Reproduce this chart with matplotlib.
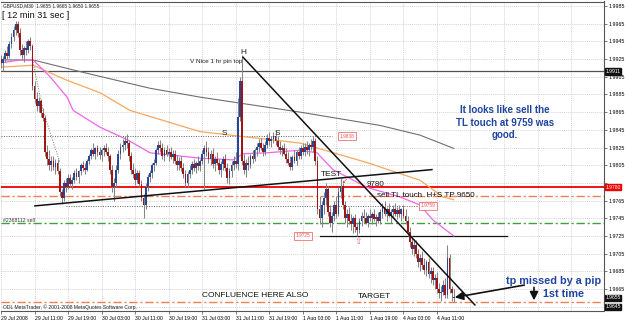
import matplotlib
matplotlib.use("Agg")
import matplotlib.pyplot as plt

plt.rcParams['font.family'] = ['Liberation Sans', 'DejaVu Sans']

# ---------------- data (prices in 1/10000) ----------------
opens = [19925,19920,19925,19932,19928,19942,19950,19958,19965,19955,19935,19930,19938,19935,19945,
         19940,19895,19880,19872,19878,19864,19858,19820,19812,19805,19810,19803,19808,19798,19775,
         19768,19785,19780,19790,19784,19788,19796,19792,19798,19805,19802,19800,19810,19815,19822,
         19818,19824,19820,19816,19822,19825,19820,19815,19800,19780,19785,19800,19818,19826,19828,
         19832,19830,19815,19800,19795,19788,19796,19784,19768,19760,19780,19792,19796,19805,19808,
         19822,19828,19825,19815,19822,19818,19820,19814,19818,19810,19805,19810,19802,19795,19785,
         19795,19800,19806,19802,19808,19804,19810,19818,19825,19820,19812,19818,19806,19812,19808,
         19800,19806,19812,19802,19790,19798,19805,19810,19806,19860,19900,19810,19800,19808,19805,
         19815,19812,19822,19826,19830,19825,19820,19828,19836,19832,19835,19838,19832,19826,19822,
         19825,19818,19812,19808,19803,19814,19810,19820,19815,19825,19820,19826,19822,19828,19826,
         19832,19810,19755,19745,19760,19768,19778,19752,19740,19748,19760,19750,19775,19782,19760,
         19745,19750,19742,19738,19745,19735,19732,19742,19748,19745,19740,19748,19745,19750,19744,
         19746,19742,19752,19758,19750,19755,19748,19752,19756,19750,19754,19750,19755,19748,19742,
         19730,19718,19710,19715,19705,19695,19700,19692,19686,19695,19682,19685,19675,19678,19665,
         19660,19662,19670,19658,19700,19665,19655]
highs = [19930,19928,19935,19940,19945,19955,19962,19968,19968,19960,19942,19940,19945,19948,19950,
         19942,19900,19888,19882,19880,19870,19862,19828,19822,19815,19815,19812,19812,19802,19778,
         19788,19790,19795,19795,19792,19800,19802,19800,19808,19810,19808,19812,19818,19825,19830,
         19826,19828,19826,19825,19828,19830,19826,19818,19805,19790,19805,19822,19830,19835,19838,
         19840,19834,19820,19808,19802,19800,19800,19788,19772,19785,19795,19800,19808,19812,19825,
         19832,19834,19830,19826,19828,19825,19826,19822,19822,19816,19814,19815,19808,19800,19798,
         19805,19810,19812,19810,19815,19812,19822,19828,19832,19826,19822,19825,19815,19820,19812,
         19810,19815,19818,19808,19802,19810,19815,19820,19881,19905,19930,19818,19812,19815,19818,
         19822,19825,19830,19835,19836,19830,19832,19840,19842,19838,19843,19845,19838,19832,19828,
         19830,19824,19820,19815,19816,19822,19822,19826,19828,19830,19830,19832,19830,19835,19838,
         19836,19815,19770,19765,19775,19785,19782,19760,19752,19765,19770,19780,19790,19785,19765,
         19755,19758,19750,19748,19750,19740,19745,19752,19755,19752,19750,19756,19752,19756,19750,
         19752,19756,19762,19764,19758,19762,19756,19760,19762,19758,19760,19757,19760,19755,19748,
         19735,19725,19722,19720,19710,19705,19708,19700,19698,19700,19690,19690,19682,19684,19672,
         19668,19675,19678,19715,19705,19668,19665]
lows = [19915,19912,19922,19925,19926,19938,19945,19952,19950,19930,19925,19922,19930,19932,19935,
        19890,19875,19866,19865,19860,19855,19815,19805,19800,19798,19800,19795,19795,19770,19761,
        19765,19775,19778,19780,19778,19785,19788,19785,19794,19798,19795,19798,19806,19812,19815,
        19812,19815,19812,19810,19815,19818,19810,19795,19775,19764,19780,19796,19812,19820,19822,
        19825,19810,19795,19790,19783,19785,19780,19765,19745,19755,19776,19786,19790,19798,19805,
        19818,19820,19812,19810,19815,19810,19812,19808,19806,19800,19800,19798,19790,19780,19780,
        19790,19795,19798,19796,19800,19798,19806,19778,19815,19808,19805,19802,19798,19805,19795,
        19792,19800,19798,19785,19784,19792,19800,19802,19800,19855,19805,19795,19792,19800,19802,
        19808,19810,19815,19820,19822,19815,19816,19825,19828,19826,19830,19828,19822,19818,19815,
        19816,19808,19805,19800,19800,19808,19805,19812,19812,19816,19815,19818,19815,19822,19820,
        19805,19750,19738,19735,19750,19760,19748,19735,19730,19742,19745,19748,19768,19755,19740,
        19735,19738,19732,19728,19730,19725,19728,19736,19740,19738,19735,19742,19738,19742,19736,
        19740,19738,19745,19748,19742,19746,19740,19745,19748,19744,19746,19742,19745,19738,19725,
        19712,19705,19702,19700,19690,19685,19688,19682,19680,19678,19672,19670,19665,19660,19655,
        19651,19658,19655,19655,19660,19652,19650]
closes = [19920,19925,19932,19928,19942,19950,19958,19965,19955,19935,19930,19938,19935,19945,19940,
          19895,19880,19872,19878,19864,19858,19820,19812,19805,19810,19803,19808,19798,19775,19768,
          19785,19780,19790,19784,19788,19796,19792,19798,19805,19802,19800,19810,19815,19822,19818,
          19824,19820,19816,19822,19825,19820,19815,19800,19780,19785,19800,19818,19826,19828,19832,
          19830,19815,19800,19795,19788,19796,19784,19768,19760,19780,19792,19796,19805,19808,19822,
          19828,19825,19815,19822,19818,19820,19814,19818,19810,19805,19810,19802,19795,19785,19795,
          19800,19806,19802,19808,19804,19810,19818,19825,19820,19812,19818,19806,19812,19808,19800,
          19806,19812,19802,19790,19798,19805,19810,19806,19860,19900,19810,19800,19808,19805,19815,
          19812,19822,19826,19830,19825,19820,19828,19836,19832,19835,19838,19832,19826,19822,19825,
          19818,19812,19808,19803,19814,19810,19820,19815,19825,19820,19826,19822,19828,19826,19832,
          19810,19755,19745,19760,19768,19778,19752,19740,19748,19760,19750,19775,19782,19760,19745,
          19750,19742,19738,19745,19735,19732,19742,19748,19745,19740,19748,19745,19750,19744,19746,
          19742,19752,19758,19750,19755,19748,19752,19756,19750,19754,19750,19755,19748,19742,19730,
          19718,19710,19715,19705,19695,19700,19692,19686,19695,19682,19685,19675,19678,19665,19660,
          19662,19670,19658,19700,19665,19660,19655]

# moving averages, read at knots (bar index, price)
ma_slow_bar = [0.5, 15.3, 39.1, 71.1, 94.9, 142.7, 180.8, 199.9, 216]
ma_slow_val = [1.9924, 1.9924, 1.9910, 1.9892, 1.9882, 1.9865, 1.9850, 1.9839, 1.9824]
ma_mid_bar = [0.5, 15.3, 31.5, 47.2, 61.5, 94.9, 142.7, 174.6, 199.9, 210.9, 216]
ma_mid_val = [1.9916, 1.9918, 1.9901, 1.9887, 1.9867, 1.9843, 1.9830, 1.9808, 1.9788, 1.9769, 1.9766]
ma_fast_bar = [1, 9.1, 15.3, 23.4, 31.5, 34.4, 47.2, 60.1, 71.1, 94.9, 110.7, 115.5, 126.9,
               142.7, 150.8, 158.4, 174.6, 190.4, 199.9, 206.1, 216]
ma_fast_val = [1.9921, 1.9924, 1.9924, 1.9905, 1.9882, 1.9867, 1.9848, 1.9834, 1.9819, 1.9813,
               1.9811, 1.9818, 1.9819, 1.9822, 1.9819, 1.9800, 1.9780, 1.9769, 1.9760, 1.9743, 1.9725]

# drawn objects (bar, price)
tl_support = [(16.2, 1.9759), (205.6, 1.9800)]
tl_down = [(115.5, 1.9927), (226.1, 1.9647)]
dotted_path_bar = [14.8, 20.0, 28.1]
dotted_path_val = [1.9927, 1.9867, 1.9808]

x_tick_labels = ["29 Jul 2008", "29 Jul 11:00", "29 Jul 19:00", "30 Jul 03:00", "30 Jul 11:00",
                 "30 Jul 19:00", "31 Jul 03:00", "31 Jul 11:00", "31 Jul 19:00", "1 Aug 03:00",
                 "1 Aug 11:00", "1 Aug 19:00", "4 Aug 03:00", "4 Aug 11:00"]
y_ticks = [1.9985, 1.9965, 1.9945, 1.9925, 1.9905, 1.9885, 1.9865, 1.9845, 1.9825, 1.9805,
           1.9785, 1.9765, 1.9745, 1.9725, 1.9705, 1.9685, 1.9665, 1.9645]
y_tick_hidden = [1.9785, 1.9645]   # covered by price boxes in the reference

level_resist = 1.9911
level_red = 1.9780
level_sl = 1.9770
level_order = 1.9740
level_tp = 1.9650
level_9838 = 1.9838
level_9759 = 1.9759
level_9725 = 1.9725
bid_price = 1.9655
low_box = 1.9645

O = [v / 10000 for v in opens]
H = [v / 10000 for v in highs]
L = [v / 10000 for v in lows]
C = [v / 10000 for v in closes]
n = len(C)
idx = list(range(n))

# ---------------- figure ----------------
fig = plt.figure(figsize=(6.25, 3.2), dpi=100)
fig.patch.set_facecolor('white')
ax = fig.add_axes([1 / 625, 9.5 / 320, 603 / 625, 309 / 320])
ax.set_xlim(0, 287.7)
ax.set_ylim(1.96407, 1.99901)

# grid
for k in range(0, 288, 16):
    ax.axvline(k, color='#c4c4c4', lw=0.5, ls=(0, (1.5, 1.5)), zorder=0)
for yv in y_ticks:
    ax.axhline(yv, color='#c4c4c4', lw=0.5, ls=(0, (1.5, 1.5)), zorder=0)

# horizontal levels
ax.axhline(level_resist, color='#505050', lw=0.9, zorder=1)
ax.axhline(level_red, color='#ee0000', lw=1.3, zorder=1)
ax.axhline(level_sl, color='#f08050', lw=1.0, ls=(0, (6, 2, 1.5, 2)), zorder=1)
ax.axhline(level_order, color='#3ea03e', lw=1.0, ls=(0, (6, 2, 1.5, 2)), zorder=1)
ax.axhline(level_tp, color='#f08050', lw=1.0, ls=(0, (6, 2, 1.5, 2)), zorder=1)
ax.plot([0, 158], [level_9838, level_9838], color='#606060', lw=0.7, ls=(0, (1, 1.5)), zorder=1)
ax.plot([31, 199], [level_9759, level_9759], color='#606060', lw=0.7, ls=(0, (1, 1.5)), zorder=1)
ax.plot([152, 241.4], [level_9725, level_9725], color='#111111', lw=0.9, zorder=1)

# moving averages
ax.plot(ma_slow_bar, ma_slow_val, color='#707070', lw=0.8, zorder=2)
ax.plot(ma_mid_bar, ma_mid_val, color='#f7a85e', lw=0.9, zorder=2)
ax.plot(ma_fast_bar, ma_fast_val, color='#ee66ee', lw=0.9, zorder=2)
ax.plot(dotted_path_bar, dotted_path_val, color='#777777', lw=0.7, ls=(0, (1, 1.5)), zorder=2)

# candles
ax.vlines(idx, L, H, color='#858585', lw=0.75, zorder=3)
bull = [i for i in idx if C[i] >= O[i]]
bear = [i for i in idx if C[i] < O[i]]
ax.bar(bull, [max(C[i] - O[i], 0.00008) for i in bull], bottom=[O[i] for i in bull],
       width=0.85, color='#24479a', zorder=4, linewidth=0)
ax.bar(bear, [O[i] - C[i] for i in bear], bottom=[C[i] for i in bear],
       width=0.85, color='#a01414', zorder=4, linewidth=0)

# trend lines
ax.plot([p[0] for p in tl_support], [p[1] for p in tl_support], color='#111111', lw=1.1, zorder=5)
ax.plot([p[0] for p in tl_down], [p[1] for p in tl_down], color='#111111', lw=1.1, zorder=5)

# axes styling
ax.spines['left'].set_visible(False)
for s in ['top', 'right', 'bottom']:
    ax.spines[s].set_color('#555555')
    ax.spines[s].set_linewidth(0.8)
ax.set_xticks(list(range(0, 16 * len(x_tick_labels), 16)))
ax.set_xticklabels(x_tick_labels, ha='left', fontsize=3.7)
ax.tick_params(axis='x', length=2.5, width=0.5, pad=1.5, color='#444444')
ax.yaxis.tick_right()
ax.set_yticks(y_ticks)
ax.set_yticklabels(['' if v in y_tick_hidden else '%.4f' % v for v in y_ticks], fontsize=3.8)
ax.tick_params(axis='y', length=2, width=0.5, pad=1.2, color='#444444')

ytr = ax.get_yaxis_transform()
def axis_box(val, fc):
    ax.text(1.002, val, '%.4f' % val, transform=ytr, fontsize=3.6, color='white', va='center',
            ha='left', bbox=dict(boxstyle='square,pad=0.12', fc=fc, ec=fc), zorder=10, clip_on=False)
axis_box(level_resist, '#111111')
axis_box(level_red, '#ee0000')
axis_box(bid_price, '#111111')
axis_box(low_box, '#111111')

def salmon_box(xb, val):
    ax.text(xb, val, '%.4f' % val, fontsize=3.4, color='#f05050', va='center', ha='left',
            bbox=dict(boxstyle='square,pad=0.3', fc='white', ec='#f07070', lw=0.6), zorder=8)
salmon_box(161.7, level_9838)
salmon_box(200.3, level_9759)
salmon_box(140.5, level_9725)

# annotations on chart
ax.text(115.0, 1.9922, 'V Nice 1 hr pin top', fontsize=4.6, ha='right', va='center', color='#222222', zorder=8)
ax.text(115.5, 1.9932, 'H', fontsize=6, ha='center', va='center', color='#222222', zorder=8)
ax.text(106.4, 1.9841, 'S', fontsize=6, ha='center', va='center', color='#222222', zorder=8)
ax.text(131.7, 1.9841, 'S', fontsize=6, ha='center', va='center', color='#222222', zorder=8)
ax.text(152.7, 1.9794, 'TEST', fontsize=6, ha='left', va='center', color='#111111', zorder=8)
ax.text(174.6, 1.97832, '9780', fontsize=5.8, ha='left', va='center', color='#111111', zorder=8)
ax.text(179.4, 1.97707, 'sell TL touch  H+S TP 9650', fontsize=5.8, ha='left', va='center',
        color='#111111', zorder=8)
ax.text(164.0, 1.9786, '\u2199', fontsize=5, ha='center', va='center', color='#ee2222', zorder=8)
ax.text(170.3, 1.9719, '\u21e7', fontsize=6.5, ha='center', va='center', color='#f07070',
        family='DejaVu Sans', zorder=8)
ax.text(1.0, 1.9743, '#2368112 sell', fontsize=3.7, ha='left', va='center', color='#333333', zorder=8)
ax.text(95.9, 1.9658, 'CONFLUENCE HERE ALSO', fontsize=6, ha='left', va='center', color='#111111', zorder=8)
ax.text(170.3, 1.9657, 'TARGET', fontsize=6, ha='left', va='center', color='#111111', zorder=8)

blue = '#1f45a0'
ax.text(240.5, 1.9853, 'It looks like sell the\nTL touch at 9759 was\ngood.', fontsize=7,
        fontweight='bold', color=blue, ha='center', va='center', linespacing=1.3, zorder=8)
ax.text(263.5, 1.96745, 'tp missed by a pip', fontsize=7.8, fontweight='bold',
        color=blue, ha='center', va='center', zorder=8)
ax.text(268.5, 1.96597, '1st time', fontsize=7.8, fontweight='bold',
        color=blue, ha='center', va='center', zorder=8)

ax.annotate('', xy=(215.2, 1.9655), xytext=(251.0, 1.9670),
            arrowprops=dict(arrowstyle='-|>,head_length=0.5,head_width=0.25', color='#111111', lw=1.2),
            zorder=9)
ax.annotate('', xy=(254.3, 1.9649), xytext=(254.3, 1.9670),
            arrowprops=dict(arrowstyle='-|>,head_length=0.5,head_width=0.25', color='#111111', lw=1.2),
            zorder=9)

# header texts
fig.text(3 / 625, 1 - 5.5 / 320, 'GBPUSD,M30  1.9655 1.9665 1.9650 1.9655', fontsize=3.4,
         ha='left', va='center', color='#222222')
fig.text(2 / 625, 1 - 16 / 320, '[ 12 min 31 sec ]', fontsize=6.6, ha='left', va='center', color='#111111')
fig.text(3 / 625, 1 - 307.5 / 320, 'ODL MetaTrader, \u00a9 2001-2008 MetaQuotes Software Corp.',
         fontsize=3.6, ha='left', va='center', color='#222222')

fig.savefig('out.png', dpi=100, facecolor='white')
